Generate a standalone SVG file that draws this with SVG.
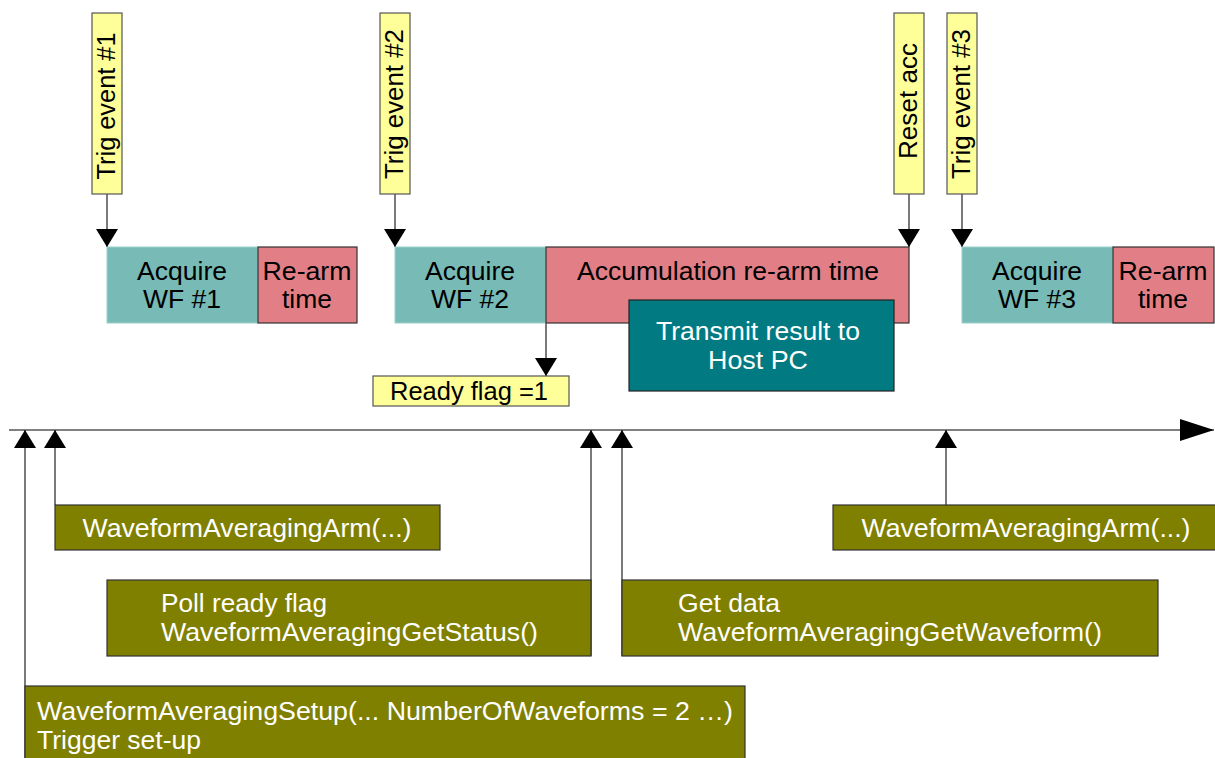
<svg xmlns="http://www.w3.org/2000/svg" width="1215" height="758" viewBox="0 0 1215 758">
  <style>
    text { font-family: "Liberation Sans", Arial, sans-serif; font-size: 25px; }
    .dark { fill: #000; }
    .light { fill: #fff; }
    .mid { text-anchor: middle; }
    .flag { fill: #ffff99; stroke: #555; stroke-width: 1.2; }
    .acq { fill: #77bab6; stroke: #9ccfcb; stroke-width: 1; }
    .rearm { fill: #e27e85; stroke: #333; stroke-width: 1.2; }
    .xmit { fill: #017a82; stroke: #222; stroke-width: 1.2; }
    .call { fill: #808000; stroke: #333; stroke-width: 1.2; }
    .link { fill: none; stroke: #333; stroke-width: 1.3; }
    .axis { fill: none; stroke: #808080; stroke-width: 2; }
  </style>
  <defs>
    <marker id="tip" viewBox="0 0 18 22" refX="18" refY="11" markerWidth="18" markerHeight="22" markerUnits="userSpaceOnUse" orient="auto">
      <path d="M0,0 L18,11 L0,22 Z" fill="#000"/>
    </marker>
    <marker id="axisTip" viewBox="0 0 34 22" refX="34" refY="11" markerWidth="34" markerHeight="22" markerUnits="userSpaceOnUse" orient="auto">
      <path d="M0,0 L34,11 L0,22 Z" fill="#000"/>
    </marker>
  </defs>

  <rect width="1215" height="758" fill="#fff"/>

  <!-- connectors: trigger arrows, ready flag, timeline and API calls -->
  <g id="connectors">
    <line class="link" x1="107" y1="194" x2="107" y2="247" marker-end="url(#tip)"/>
    <line class="link" x1="395" y1="194" x2="395" y2="247" marker-end="url(#tip)"/>
    <line class="link" x1="909" y1="194" x2="909" y2="247" marker-end="url(#tip)"/>
    <line class="link" x1="962" y1="194" x2="962" y2="247" marker-end="url(#tip)"/>
    <line class="link" x1="546" y1="323" x2="546" y2="376" marker-end="url(#tip)"/>
    <line class="axis" x1="9" y1="430" x2="1214" y2="430" marker-end="url(#axisTip)"/>
    <line class="link" x1="25" y1="758" x2="25" y2="430" marker-end="url(#tip)"/>
    <line class="link" x1="55" y1="505" x2="55" y2="430" marker-end="url(#tip)"/>
    <line class="link" x1="591" y1="656" x2="591" y2="430" marker-end="url(#tip)"/>
    <line class="link" x1="622" y1="656" x2="622" y2="430" marker-end="url(#tip)"/>
    <line class="link" x1="946" y1="505" x2="946" y2="430" marker-end="url(#tip)"/>
  </g>

  <!-- trigger / reset flags -->
  <g id="trig1">
    <rect class="flag" x="92" y="13" width="30" height="181"/>
    <text class="dark mid" transform="translate(115,106) rotate(-90)" textLength="147" lengthAdjust="spacingAndGlyphs">Trig event #1</text>
  </g>
  <g id="trig2">
    <rect class="flag" x="380" y="13" width="30" height="181"/>
    <text class="dark mid" transform="translate(403,104) rotate(-90)" textLength="150" lengthAdjust="spacingAndGlyphs">Trig event #2</text>
  </g>
  <g id="resetAcc">
    <rect class="flag" x="894" y="13" width="30" height="181"/>
    <text class="dark mid" transform="translate(917,101) rotate(-90)" textLength="116" lengthAdjust="spacingAndGlyphs">Reset acc</text>
  </g>
  <g id="trig3">
    <rect class="flag" x="947" y="13" width="30" height="181"/>
    <text class="dark mid" transform="translate(970,104) rotate(-90)" textLength="150" lengthAdjust="spacingAndGlyphs">Trig event #3</text>
  </g>

  <!-- acquisition timeline blocks -->
  <g id="acquire1">
    <rect class="acq" x="107" y="247" width="151" height="76"/>
    <text class="dark mid" x="182" y="280" textLength="90" lengthAdjust="spacingAndGlyphs">Acquire</text>
    <text class="dark mid" x="182" y="308" textLength="78" lengthAdjust="spacingAndGlyphs">WF #1</text>
  </g>
  <g id="rearm1">
    <rect class="rearm" x="258" y="247" width="99" height="76"/>
    <text class="dark mid" x="307" y="280" textLength="89" lengthAdjust="spacingAndGlyphs">Re-arm</text>
    <text class="dark mid" x="307" y="308" textLength="50" lengthAdjust="spacingAndGlyphs">time</text>
  </g>
  <g id="acquire2">
    <rect class="acq" x="395" y="247" width="151" height="76"/>
    <text class="dark mid" x="470" y="280" textLength="90" lengthAdjust="spacingAndGlyphs">Acquire</text>
    <text class="dark mid" x="470" y="308" textLength="78" lengthAdjust="spacingAndGlyphs">WF #2</text>
  </g>
  <g id="accRearm">
    <rect class="rearm" x="546" y="247" width="363" height="76"/>
    <text class="dark mid" x="728" y="280" textLength="302" lengthAdjust="spacingAndGlyphs">Accumulation re-arm time</text>
  </g>
  <g id="transmit">
    <rect class="xmit" x="629" y="300" width="265" height="91"/>
    <text class="light mid" x="758" y="340" textLength="204" lengthAdjust="spacingAndGlyphs">Transmit result to</text>
    <text class="light mid" x="758" y="369" textLength="100" lengthAdjust="spacingAndGlyphs">Host PC</text>
  </g>
  <g id="readyFlag">
    <rect class="flag" x="373" y="376" width="196" height="30"/>
    <text class="dark mid" x="469" y="400" textLength="158" lengthAdjust="spacingAndGlyphs">Ready flag =1</text>
  </g>
  <g id="acquire3">
    <rect class="acq" x="962" y="247" width="151" height="76"/>
    <text class="dark mid" x="1037" y="280" textLength="90" lengthAdjust="spacingAndGlyphs">Acquire</text>
    <text class="dark mid" x="1037" y="308" textLength="78" lengthAdjust="spacingAndGlyphs">WF #3</text>
  </g>
  <g id="rearm3">
    <rect class="rearm" x="1113" y="247" width="101" height="76"/>
    <text class="dark mid" x="1163" y="280" textLength="89" lengthAdjust="spacingAndGlyphs">Re-arm</text>
    <text class="dark mid" x="1163" y="308" textLength="50" lengthAdjust="spacingAndGlyphs">time</text>
  </g>

  <!-- host API calls -->
  <g id="arm1">
    <rect class="call" x="55" y="505" width="385" height="45"/>
    <text class="light mid" x="247" y="537" textLength="329" lengthAdjust="spacingAndGlyphs">WaveformAveragingArm(...)</text>
  </g>
  <g id="arm2">
    <rect class="call" x="833" y="505" width="390" height="45"/>
    <text class="light mid" x="1026" y="537" textLength="329" lengthAdjust="spacingAndGlyphs">WaveformAveragingArm(...)</text>
  </g>
  <g id="pollStatus">
    <rect class="call" x="107" y="580" width="484" height="76"/>
    <text class="light" x="161" y="612" textLength="166" lengthAdjust="spacingAndGlyphs">Poll ready flag</text>
    <text class="light" x="161" y="641" textLength="377" lengthAdjust="spacingAndGlyphs">WaveformAveragingGetStatus()</text>
  </g>
  <g id="getData">
    <rect class="call" x="622" y="580" width="536" height="76"/>
    <text class="light" x="678" y="612" textLength="102" lengthAdjust="spacingAndGlyphs">Get data</text>
    <text class="light" x="678" y="641" textLength="424" lengthAdjust="spacingAndGlyphs">WaveformAveragingGetWaveform()</text>
  </g>
  <g id="setup">
    <rect class="call" x="25" y="686" width="720" height="80"/>
    <text class="light" x="37" y="720" textLength="696" lengthAdjust="spacingAndGlyphs">WaveformAveragingSetup(... NumberOfWaveforms = 2 …)</text>
    <text class="light" x="37" y="749" textLength="164" lengthAdjust="spacingAndGlyphs">Trigger set-up</text>
  </g>
</svg>
